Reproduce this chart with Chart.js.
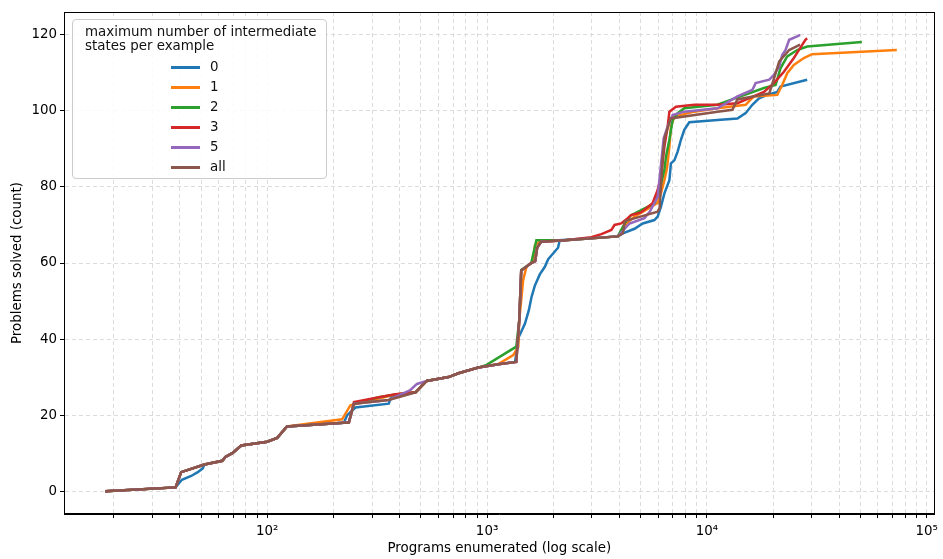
<!DOCTYPE html>
<html lang="en">
<head>
<meta charset="UTF-8">
<title>Problems solved vs programs enumerated</title>
<script src="https://cdn.jsdelivr.net/npm/chart.js"></script>
<style>
  body { margin: 0; background: #fff; font-family: "DejaVu Sans", sans-serif; }
  #wrap { position: relative; width: 943px; height: 559px; }
  #legend {
    position: absolute; left: 72px; top: 19px; width: 253px; height: 158px;
    border: 1px solid #cccccc; border-radius: 4px; background: rgba(255,255,255,0.85);
    font-size: 13.4px; color: #111;
  }
  #legend .title { position: absolute; left: 12px; top: 5px; line-height: 14px; white-space: nowrap; }
  #legend .row { position: absolute; left: 0; height: 20px; width: 100%; }
  #legend .swatch { position: absolute; left: 98px; top: 9px; width: 29px; height: 3px; }
  #legend .lbl { position: absolute; left: 137px; top: 2px; line-height: 16px; }
</style>
</head>
<body>
<div id="wrap">
  <canvas id="myChart" width="943" height="559"></canvas>
  <div id="legend">
    <div class="title">maximum number of intermediate<br>states per example</div>
  </div>
</div>
<script>
    // series: max number of intermediate states per example
    const seriesLabels = ['0', '1', '2', '3', '5', 'all'];
    const seriesColors = ['#1f77b4', '#ff7f0e', '#2ca02c', '#d62728', '#9467bd', '#8c564b'];

    const programs0 = [18.3, 38.3, 40.9, 45.1, 48.3, 50.9, 51.8, 62.5, 64.5, 69.4, 76.2, 100, 111, 123, 223, 231, 252, 357, 368, 473, 531, 668, 741, 913, 1125, 1340, 1396, 1486, 1549, 1592, 1648, 1737, 1832, 1897, 1997, 2103, 2140, 3935, 4146, 4684, 5107, 5770, 5970, 6180, 6407, 6750, 6860, 7110, 7360, 7617, 7890, 8317, 11170, 13760, 15010, 16090, 17260, 18820, 20890, 21620, 28580];
    const solved0 = [0, 1, 3, 4, 5, 6, 7, 8, 9, 10, 12, 13, 14, 17, 18, 20, 22, 23, 25, 26, 29, 30, 31, 32.5, 33.4, 34, 40.6, 44, 47.6, 51, 54, 57, 59, 61, 62.5, 64, 66, 67, 67.8, 69, 70.4, 71.3, 72.2, 74.8, 78.3, 81.8, 86.2, 87, 89.3, 92.4, 95, 97, 97.6, 98, 99.4, 101.6, 103.3, 104.2, 105, 106.4, 108.2];

    const programs1 = [18.3, 38.3, 40.6, 51.8, 62.5, 64.5, 69.4, 76.2, 100, 111, 123, 219, 239, 383, 473, 531, 668, 741, 913, 1125, 1316, 1387, 1401, 1459, 1511, 1621, 1651, 1737, 2263, 3935, 4233, 4684, 5970, 6180, 6407, 6582, 6750, 6860, 7110, 8760, 11170, 15010, 15760, 16380, 20890, 22000, 23190, 24860, 27590, 30070, 73060];
    const solved1 = [0, 1, 5, 7, 8, 9, 10, 12, 13, 14, 17, 18.9, 22.6, 25.4, 26, 29, 30, 31, 32.5, 33.4, 35.8, 38, 45, 55.5, 59, 60.3, 64.7, 65.6, 66, 67, 70, 72.2, 75.8, 78.3, 81.8, 84.9, 90.6, 95.9, 98.5, 99.8, 100.7, 101.6, 102.9, 103.8, 104.2, 106.8, 109.9, 112.1, 113.9, 114.9, 116];

    const programs2 = [18.3, 38.3, 40.6, 51.8, 62.5, 64.5, 69.4, 76.2, 100, 111, 123, 223, 235, 248, 322, 383, 473, 531, 668, 741, 913, 995, 1358, 1401, 1430, 1588, 1676, 2263, 3935, 4233, 4500, 5770, 6090, 6407, 6514, 6750, 6985, 7360, 7890, 11170, 12830, 18180, 20530, 21610, 23190, 25740, 28580, 50700];
    const solved2 = [0, 1, 5, 7, 8, 9, 10, 12, 13, 14, 17, 18, 18, 23, 24.7, 25.4, 26, 29, 30, 31, 32.5, 33.2, 38, 45, 58.2, 60, 66, 66, 67, 70.5, 72.5, 75.7, 79.2, 84.5, 88, 92.4, 97.6, 99.4, 100.7, 101.6, 102.9, 106, 106.8, 111.2, 114.3, 116, 116.9, 118.1];

    const programs3 = [18.3, 38.3, 40.6, 51.8, 62.5, 64.5, 69.4, 76.2, 100, 111, 123, 223, 235, 248, 322, 383, 473, 531, 668, 741, 913, 1125, 1358, 1401, 1430, 1588, 1656, 1690, 1762, 2263, 2980, 3312, 3675, 3800, 4074, 4365, 4520, 5010, 5660, 5970, 6180, 6407, 6514, 6630, 6750, 7230, 8760, 11170, 13760, 18180, 20180, 22400, 24860, 26550, 28060, 28580];
    const solved3 = [0, 1, 5, 7, 8, 9, 10, 12, 13, 14, 17, 18, 18, 23.4, 24.7, 25.5, 26, 29, 30, 31, 32.5, 33.4, 34, 45, 58, 60, 60.5, 64, 65.6, 66, 66.8, 67.6, 68.7, 70, 70.4, 71.8, 72.6, 73.3, 75.7, 79.2, 82.7, 90.6, 93.2, 95.9, 99.8, 101.1, 101.6, 101.6, 102, 105, 107.3, 110.3, 113.9, 116.5, 118.7, 119.1];

    const programs5 = [18.3, 38.3, 40.6, 51.8, 62.5, 64.5, 69.4, 76.2, 100, 111, 123, 223, 235, 248, 357, 448, 480, 531, 668, 741, 913, 1125, 1358, 1401, 1430, 1588, 1656, 1690, 1762, 2263, 3935, 4446, 5200, 5500, 5970, 6360, 6630, 6985, 7890, 11170, 13760, 16090, 16660, 19220, 20180, 21330, 22000, 22790, 23670, 25740, 26550];
    const solved5 = [0, 1, 5, 7, 8, 9, 10, 12, 13, 14, 17, 18, 18, 23, 24, 26.6, 28.2, 29, 30, 31, 32.5, 33.4, 34, 45, 58, 60, 60.5, 64, 65.6, 66, 67, 70.4, 71.8, 73.5, 77.4, 92.8, 95.9, 98.9, 99.8, 100.7, 103.8, 105.5, 107.3, 108.2, 109.5, 111.7, 114.7, 116, 118.7, 119.6, 120];

    const programsAll = [18.3, 38.3, 40.6, 51.8, 62.5, 64.5, 69.4, 76.2, 100, 111, 123, 223, 235, 248, 357, 473, 531, 668, 741, 913, 1125, 1358, 1401, 1430, 1588, 1656, 1690, 1762, 2263, 3935, 4150, 4233, 4848, 5970, 6095, 6293, 6427, 6840, 11170, 13060, 13760, 19220, 19820, 21330, 23670, 26550];
    const solvedAll = [0, 1, 5, 7, 8, 9, 10, 12, 13, 14, 17, 18, 18, 23, 24, 26, 29, 30, 31, 32.5, 33.4, 34, 45, 58, 60, 60.5, 64, 65.6, 66, 67, 67.8, 71, 72, 73.5, 74.5, 88, 93, 98, 99.8, 100.3, 103, 104.6, 107, 113, 116, 117.4];

    const xTickValues = [100, 1000, 10000, 100000];
    const xTickLabels = ['10²', '10³', '10⁴', '10⁵'];
    const yTickValues = [0, 20, 40, 60, 80, 100, 120];

    const allPrograms = [programs0, programs1, programs2, programs3, programs5, programsAll];
    const allSolved = [solved0, solved1, solved2, solved3, solved5, solvedAll];

    const FONT = 'DejaVu Sans';
    const FSIZE = 13.4;

    // legend rows (html, sits inside the plot like matplotlib's)
    const legendBox = document.getElementById('legend');
    seriesLabels.forEach(function (lab, i) {
        const row = document.createElement('div');
        row.className = 'row';
        row.style.top = (37 + i * 20) + 'px';
        row.innerHTML = '<div class="swatch" style="background:' + seriesColors[i] + '"></div><div class="lbl">' + lab + '</div>';
        legendBox.appendChild(row);
    });

    const datasets = seriesLabels.map(function (lab, i) {
        return {
            label: lab,
            data: allPrograms[i].map((x, j) => ({ x: x, y: allSolved[i][j] })),
            borderColor: seriesColors[i],
            backgroundColor: seriesColors[i],
            borderWidth: 2.5,
            pointRadius: 0,
            tension: 0,
            fill: false,
            order: seriesLabels.length - i   // later series on top
        };
    });

    // box around the plot area
    const frame = {
        id: 'frame',
        afterDatasetsDraw(chart) {
            const a = chart.chartArea, c = chart.ctx;
            c.save();
            c.strokeStyle = '#000';
            c.lineWidth = 1;
            c.strokeRect(Math.round(a.left) + 0.5, Math.round(a.top) + 0.5, Math.round(a.right - a.left) - 1, Math.round(a.bottom - a.top) - 1);
            c.restore();
        }
    };

    const ctx = document.getElementById('myChart');
    new Chart(ctx, {
        type: 'line',
        data: { datasets: datasets },
        plugins: [frame],
        options: {
            responsive: false,
            animation: false,
            devicePixelRatio: 1,
            layout: { padding: { top: 12, right: 5, left: 0, bottom: 0 } },
            plugins: { legend: { display: false }, tooltip: { enabled: false } },
            scales: {
                x: {
                    type: 'logarithmic',
                    min: 11.9,
                    max: 108700,
                    afterBuildTicks(scale) {
                        const t = [];
                        for (let d = 10; d <= 100000; d *= 10) {
                            for (let m = 1; m <= 9; m++) {
                                const v = d * m;
                                if (v >= scale.min && v <= scale.max) t.push({ value: v, major: m === 1 });
                            }
                        }
                        scale.ticks = t;
                    },
                    afterFit(scale) { scale.height = 45; },
                    ticks: {
                        autoSkip: false,
                        maxRotation: 0,
                        padding: 5,
                        color: '#000',
                        font: { family: FONT, size: FSIZE },
                        callback: function (v) {
                            const i = xTickValues.indexOf(v);
                            return i >= 0 ? xTickLabels[i] : '';
                        }
                    },
                    grid: {
                        color: '#dcdcdc',
                        lineWidth: 1,
                        tickLength: 4,
                        tickColor: '#000',
                        tickBorderDash: []
                    },
                    border: { color: '#000', width: 1, dash: [4, 3] },
                    title: {
                        display: true,
                        text: 'Programs enumerated (log scale)',
                        color: '#000',
                        font: { family: FONT, size: FSIZE },
                        padding: { top: 0, bottom: 2 }
                    }
                },
                y: {
                    min: -6,
                    max: 126,
                    afterBuildTicks(scale) {
                        scale.ticks = yTickValues.map(v => ({ value: v }));
                    },
                    afterFit(scale) { scale.width = 64; },
                    ticks: {
                        padding: 3,
                        color: '#000',
                        font: { family: FONT, size: FSIZE }
                    },
                    grid: {
                        color: '#dcdcdc',
                        lineWidth: 1,
                        tickLength: 4,
                        tickColor: '#000',
                        tickBorderDash: []
                    },
                    border: { color: '#000', width: 1, dash: [4, 3] },
                    title: {
                        display: true,
                        text: 'Problems solved (count)',
                        color: '#000',
                        font: { family: FONT, size: FSIZE },
                        padding: { top: 9, bottom: 0 }
                    }
                }
            }
        }
    });
</script>
</body>
</html>
